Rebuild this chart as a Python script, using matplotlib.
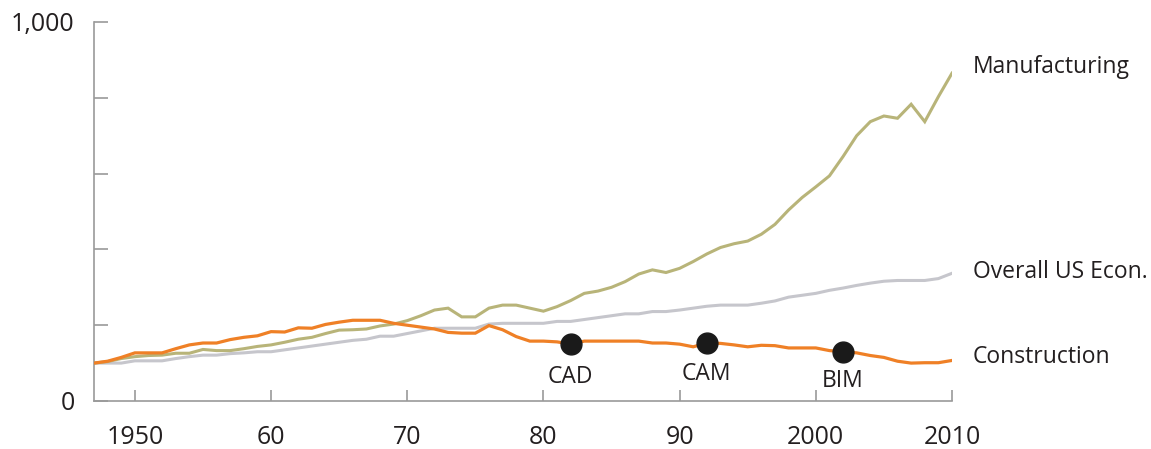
import numpy as np
import matplotlib
matplotlib.use('Agg')
import matplotlib.pyplot as plt

plt.rcParams['font.family'] = ['Open Sans', 'DejaVu Sans']

years = np.arange(1947, 2011)

manufacturing = [100, 104, 112, 117, 120, 121, 126, 126, 136, 133,
                 133, 138, 144, 148, 155, 163, 168, 178, 187, 188,
                 190, 198, 203, 212, 225, 240, 245, 222, 222, 245,
                 253, 253, 245, 237, 249, 265, 284, 290, 300, 315,
                 335, 346, 339, 350, 368, 388, 405, 415, 422, 440,
                 466, 504, 537, 565, 594, 645, 700, 737, 752, 746,
                 783, 737, 803, 865]

overall_econ = [100, 100, 100, 106, 106, 106, 112, 117, 121, 121,
                125, 127, 130, 130, 135, 140, 145, 150, 155, 160,
                163, 171, 171, 178, 185, 192, 192, 192, 192, 203,
                205, 205, 205, 205, 210, 210, 215, 220, 225, 230,
                230, 236, 236, 240, 245, 250, 253, 253, 253, 258,
                264, 274, 279, 284, 292, 298, 305, 311, 316, 318,
                318, 318, 323, 337]

construction = [100, 105, 115, 127, 127, 127, 138, 148, 153, 153,
                162, 168, 172, 183, 182, 193, 192, 202, 208, 213,
                213, 213, 205, 200, 195, 190, 181, 179, 179, 199,
                188, 170, 158, 158, 156, 150, 158, 158, 158, 158,
                158, 153, 153, 150, 143, 153, 152, 148, 143, 147,
                146, 140, 140, 140, 133, 130, 127, 120, 115, 105,
                100, 101, 101, 107]

milestone_years = [1982, 1992, 2002]
milestone_labels = ['CAD', 'CAM', 'BIM']
series_labels = ['Manufacturing', 'Overall US Econ.', 'Construction']

c_manu = '#b8b479'
c_econ = '#c6c6cc'
c_cons = '#ef8026'
c_axis = '#9a9a9a'
c_text = '#231f20'

fig = plt.figure(figsize=(11.51, 4.49), dpi=100)
ax = fig.add_axes([94 / 1151, 48 / 449, (952 - 94) / 1151, (401 - 22) / 449])

ax.plot(years, overall_econ, color=c_econ, lw=2.2, solid_joinstyle='miter')
ax.plot(years, manufacturing, color=c_manu, lw=2.2, solid_joinstyle='miter')
ax.plot(years, construction, color=c_cons, lw=2.3, solid_joinstyle='miter', zorder=3)

# milestones sit on the construction line, names just below
cons_at = [construction[y - years[0]] for y in milestone_years]
ax.plot(milestone_years, cons_at, 'o', color='#1a1a1a', ms=15, zorder=4)
for yr, val, lab, off in zip(milestone_years, cons_at, milestone_labels, [-24, -22, -21]):
    ax.annotate(lab, (yr, val), xytext=(0, off), textcoords='offset points',
                ha='center', va='center', fontsize=16.5, color=c_text)

# series names to the right of the plot
for lab, yv in zip(series_labels, [67, 272, 357]):
    fig.text(973 / 1151, 1 - yv / 449, lab, ha='left', va='center',
             fontsize=16.5, color=c_text)

ax.set_xlim(1947, 2010)
ax.set_ylim(0, 1000)
ax.set_xticks([1950, 1960, 1970, 1980, 1990, 2000, 2010])
ax.set_xticklabels(['1950', '60', '70', '80', '90', '2000', '2010'])
ax.set_yticks([0, 200, 400, 600, 800, 1000])
ax.set_yticklabels(['0', '', '', '', '', '1,000'])

for s in ['top', 'right']:
    ax.spines[s].set_visible(False)
for s in ['left', 'bottom']:
    ax.spines[s].set_color(c_axis)
    ax.spines[s].set_linewidth(1.2)

ax.tick_params(axis='both', direction='in', color=c_axis, width=1.2,
               labelsize=18, labelcolor=c_text)
ax.tick_params(axis='x', length=8, pad=17)
ax.tick_params(axis='y', length=10, pad=14)
ax.patch.set_visible(False)

fig.savefig('out.png', dpi=100)
